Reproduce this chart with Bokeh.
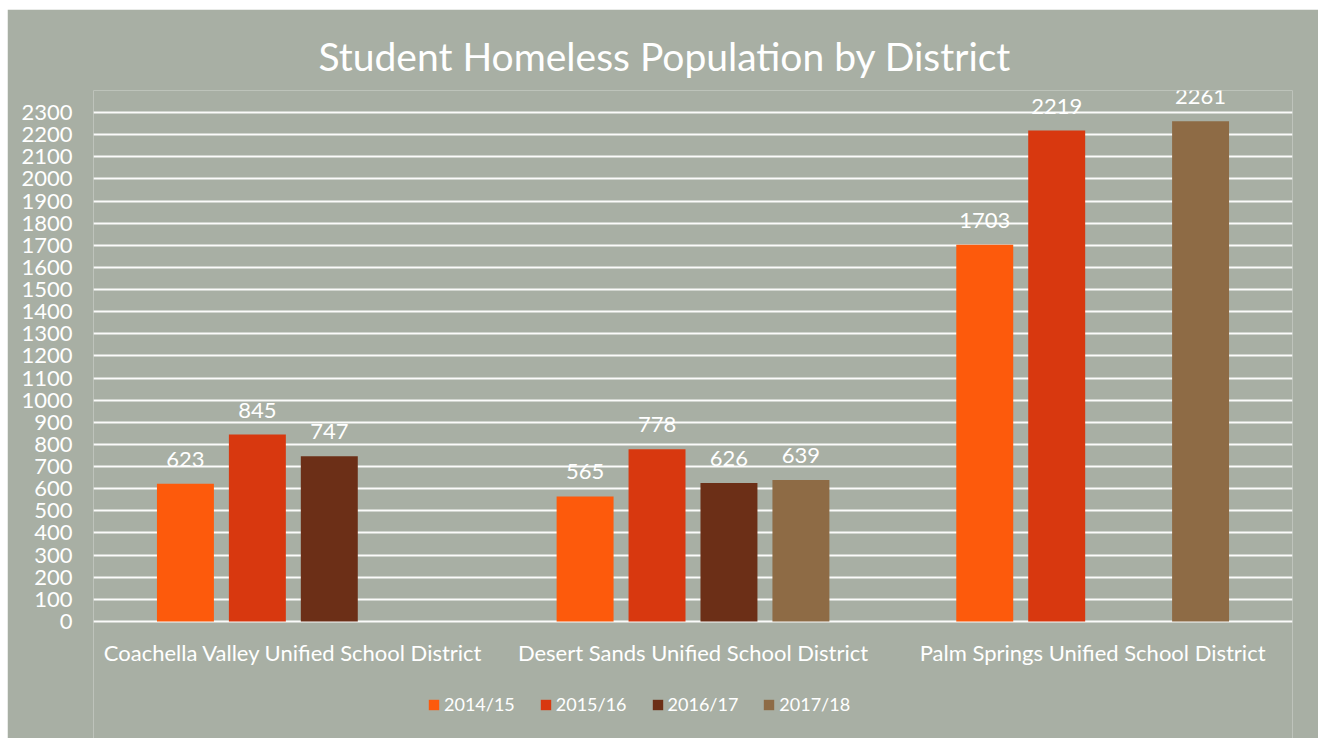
from bokeh.plotting import figure
from bokeh.models import (ColumnDataSource, FactorRange, Range1d, FixedTicker, Legend, LegendItem,
                          LabelSet, Title)
from bokeh.core.properties import value
from bokeh.transform import dodge
from bokeh.embed import file_html
from bokeh.resources import INLINE

districts = ["Coachella Valley Unified School District",
             "Desert Sands Unified School District",
             "Palm Springs Unified School District"]
years = ["2014/15", "2015/16", "2016/17", "2017/18"]
v_2014_15 = [623, 565, 1703]
v_2015_16 = [845, 778, 2219]
v_2016_17 = [747, 626, None]
v_2017_18 = [None, 639, 2261]
y_ticks = [0, 100, 200, 300, 400, 500, 600, 700, 800, 900, 1000, 1100, 1200,
           1300, 1400, 1500, 1600, 1700, 1800, 1900, 2000, 2100, 2200, 2300]

series = [v_2014_15, v_2015_16, v_2016_17, v_2017_18]
colors = ["#fd5a0c", "#d8380f", "#6c2f17", "#8e6b45"]
offsets = [-0.27, -0.09, 0.09, 0.27]

BG = "#a8afa4"
FONT = "Lato"

# frame extends below zero so the category labels and legend sit inside it
p = figure(x_range=FactorRange(*districts, range_padding=0), y_range=Range1d(-529, 2400),
           frame_width=1199, frame_height=648, output_backend="svg", toolbar_location=None,
           min_border_left=86, min_border_right=26, min_border_top=81, min_border_bottom=0)
p.margin = (9, 0, 0, 7)
p.background_fill_color = BG
p.border_fill_color = BG
p.outline_line_color = None

p.title = Title(text="Student Homeless Population by District", align="left", offset=225,
                standoff=24, text_font=FONT, text_font_size="39px", text_font_style="normal",
                text_color="white")

p.xgrid.grid_line_color = None
p.ygrid.grid_line_color = "white"
p.ygrid.grid_line_width = 2
p.ygrid.grid_line_alpha = 0.95
p.xaxis.visible = False

p.yaxis.ticker = FixedTicker(ticks=y_ticks)
p.yaxis.axis_line_color = None
p.yaxis.major_tick_line_color = None
p.yaxis.minor_tick_line_color = None
p.yaxis.major_label_text_color = "white"
p.yaxis.major_label_text_font = FONT
p.yaxis.major_label_text_font_size = "22px"
p.yaxis.major_label_standoff = 15

cat_src = ColumnDataSource(dict(x=districts, y=[0] * len(districts)))
p.add_layout(LabelSet(x="x", y="y", text="x", source=cat_src, y_offset=-31,
                      text_align="center", text_baseline="middle", text_color="white",
                      text_font=value(FONT), text_font_size="22px"))

items = []
for yr, vals, col, off in zip(years, series, colors, offsets):
    xs = [d for d, v in zip(districts, vals) if v is not None]
    tops = [v for v in vals if v is not None]
    src = ColumnDataSource(dict(x=xs, top=tops, lab=[str(t) for t in tops]))
    r = p.vbar(x=dodge("x", off, range=p.x_range), top="top", width=0.1425, source=src,
               fill_color=col, line_color=None)
    items.append(LegendItem(label=yr, renderers=[r]))
    p.add_layout(LabelSet(x=dodge("x", off, range=p.x_range), y="top", text="lab", source=src,
                          y_offset=17, text_align="center", text_baseline="alphabetic",
                          text_color="white", text_font=value(FONT), text_font_size="22px"))

legend = Legend(items=items, orientation="horizontal", location=(334, 23),
                background_fill_alpha=0, border_line_color=None, padding=0, margin=0,
                label_text_color="white", label_text_font=FONT, label_text_font_size="18px",
                glyph_width=13, glyph_height=13, label_standoff=4, spacing=24)
p.add_layout(legend, "center")

open("out.html", "w").write(file_html(p, INLINE))
